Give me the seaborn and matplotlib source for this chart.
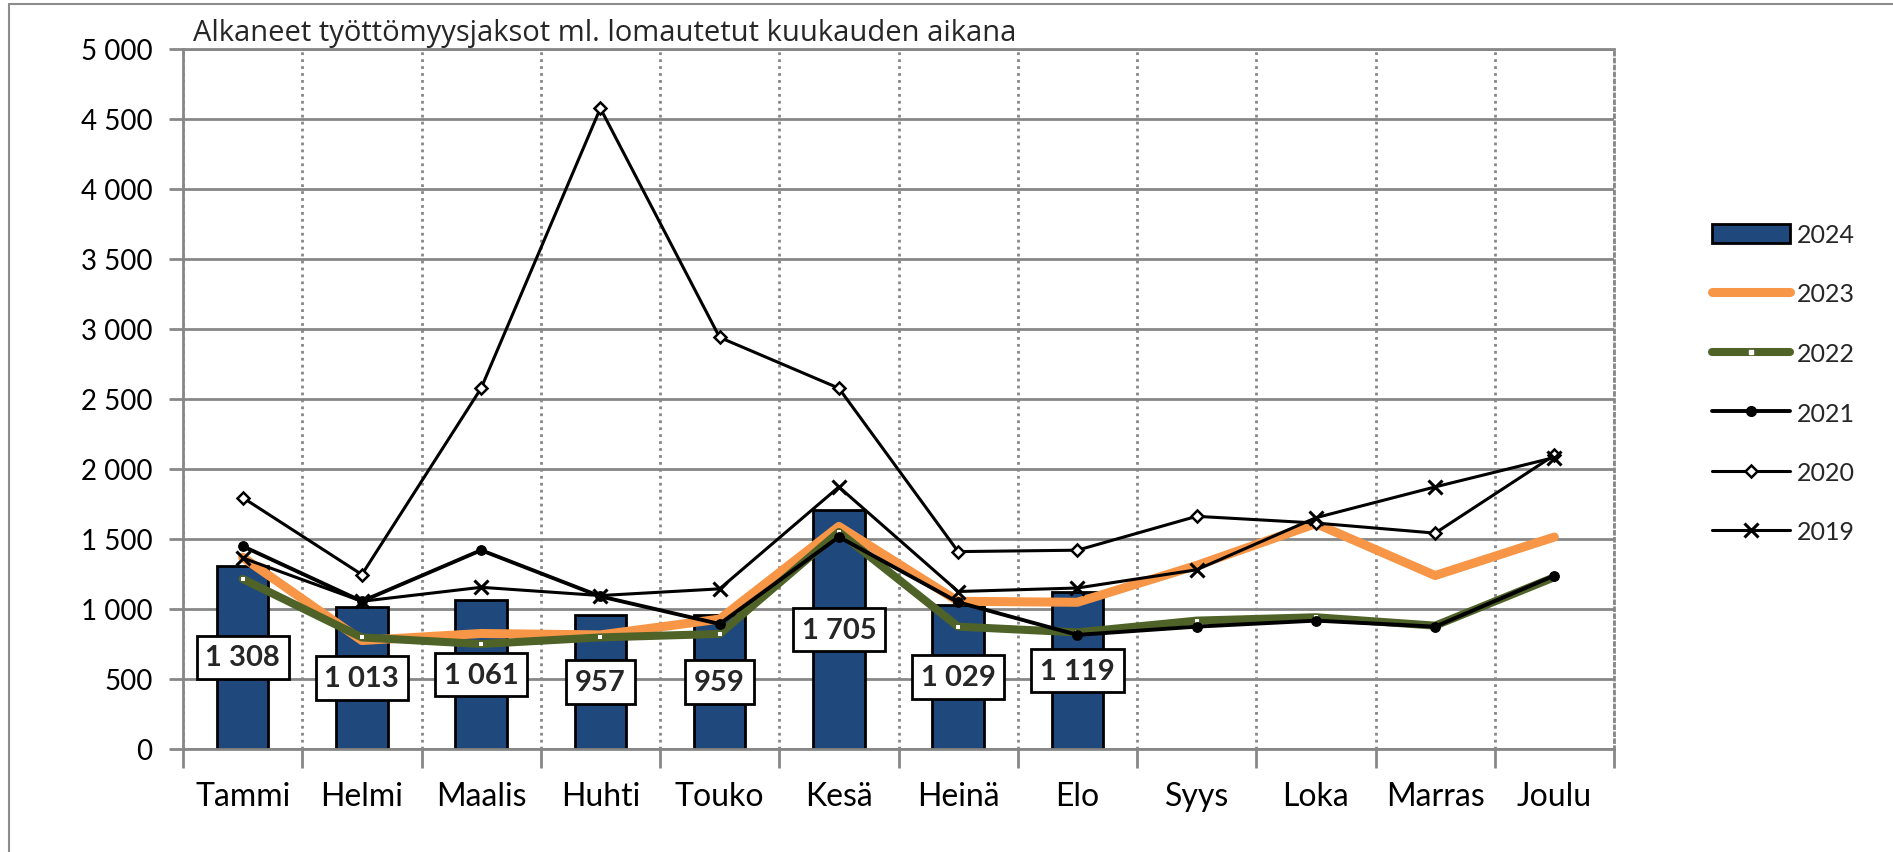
import numpy as np
import pandas as pd
import seaborn as sns
import matplotlib.pyplot as plt
from matplotlib.patches import Patch
from matplotlib.lines import Line2D

# data
months = ['Tammi', 'Helmi', 'Maalis', 'Huhti', 'Touko', 'Kesä',
          'Heinä', 'Elo', 'Syys', 'Loka', 'Marras', 'Joulu']
v2024 = [1308, 1013, 1061, 957, 959, 1705, 1029, 1119]
v2023 = [1370, 775, 825, 815, 928, 1590, 1055, 1048, 1311, 1610, 1239, 1514]
v2022 = [1215, 797, 750, 797, 822, 1550, 874, 833, 917, 941, 881, 1227]
v2021 = [1449, 1055, 1420, 1090, 893, 1515, 1048, 815, 874, 917, 874, 1239]
v2020 = [1796, 1246, 2577, 4577, 2940, 2577, 1410, 1420, 1662, 1614, 1542, 2099]
v2019 = [1365, 1055, 1155, 1096, 1144, 1872, 1125, 1150, 1280, 1652, 1872, 2082]
yticks = list(range(0, 5001, 500))
title = 'Alkaneet työttömyysjaksot ml. lomautetut kuukauden aikana'

def fmt(v):
    return f'{v:,}'.replace(',', ' ')

sns.set_theme(style='white')
plt.rcParams['font.family'] = ['Lato', 'DejaVu Sans']

GRID = '#878787'
BLUE = '#1F497D'
ORANGE = '#F79646'
GREEN = '#4F6228'

fig = plt.figure(figsize=(18.93, 8.53), dpi=100)
W, H = 1893, 853
ax = fig.add_axes([183 / W, 1 - 750 / H, (1614 - 183) / W, (750 - 50) / H])

df = pd.DataFrame({'month': months,
                   'value': v2024 + [np.nan] * (12 - len(v2024))})
sns.barplot(data=df, x='month', y='value', order=months, color=BLUE,
            saturation=1, edgecolor='black', linewidth=2, width=0.43,
            errorbar=None, ax=ax, zorder=2)

x = np.arange(len(months))
sns.lineplot(x=x, y=v2023, color=ORANGE, lw=6.5, ax=ax, zorder=3)
sns.lineplot(x=x, y=v2022, color=GREEN, lw=5.8, marker='s', ms=3.5,
             mfc='white', mec='white', mew=0, ax=ax, zorder=4)
sns.lineplot(x=x, y=v2021, color='black', lw=2.8, marker='o', ms=7,
             mfc='black', mec='black', ax=ax, zorder=5)
sns.lineplot(x=x, y=v2020, color='black', lw=2.2, marker='D', ms=6,
             mfc='white', mec='black', mew=1.8, ax=ax, zorder=6)
sns.lineplot(x=x, y=v2019, color='black', lw=2.2, marker='x', ms=10,
             mec='black', mew=2.2, ax=ax, zorder=7)

# value labels for 2024, centred in the bars
for i, v in enumerate(v2024):
    ax.text(i, v / 2, fmt(v), ha='center', va='center', fontsize=21,
            fontweight='bold', zorder=10,
            bbox=dict(boxstyle='square,pad=0.3', fc='white', ec='black', lw=2))

ax.set_xlim(-0.5, 11.5)
ax.set_ylim(0, 5000)
ax.set_yticks(yticks)
ax.set_yticklabels([fmt(t) for t in yticks])
ax.set_xticks(x)
ax.set_xticklabels(months)
ax.set_xticks(np.arange(-0.5, 12), minor=True)
ax.set_xlabel('')
ax.set_ylabel('')

ax.yaxis.grid(True, color=GRID, lw=2, zorder=0)
ax.xaxis.grid(True, which='minor', color=GRID, lw=2, ls=(0, (1, 1.5)))
ax.xaxis.grid(False, which='major')
ax.set_axisbelow(True)

ax.tick_params(axis='y', length=10, width=2, color=GRID, pad=12,
               labelsize=20, labelcolor='black', left=True)
ax.tick_params(axis='x', which='major', length=0, pad=23, labelsize=23,
               labelcolor='black')
ax.tick_params(axis='x', which='minor', length=14, width=2, color=GRID,
               bottom=True)

for s in ['left', 'bottom', 'top']:
    ax.spines[s].set_color(GRID)
    ax.spines[s].set_linewidth(2)
ax.spines['right'].set_color(GRID)
ax.spines['right'].set_linewidth(2)
ax.spines['right'].set_linestyle((0, (1, 1.5)))

fig.text(193 / W, 1 - 34 / H, title, ha='left', va='center', fontsize=21,
         family=['Open Sans', 'DejaVu Sans'])

handles = [
    Patch(facecolor=BLUE, edgecolor='black', lw=2),
    Line2D([], [], color=ORANGE, lw=6.5),
    Line2D([], [], color=GREEN, lw=5.8, marker='s', ms=3.5, mfc='white', mec='white'),
    Line2D([], [], color='black', lw=2.8, marker='o', ms=7),
    Line2D([], [], color='black', lw=2.2, marker='D', ms=6, mfc='white', mew=1.8),
    Line2D([], [], color='black', lw=2.2, marker='x', ms=10, mew=2.2),
]
fig.legend(handles, ['2024', '2023', '2022', '2021', '2020', '2019'],
           loc='upper left', bbox_to_anchor=(1712 / W, 1 - 224 / H),
           bbox_transform=fig.transFigure, frameon=False, fontsize=18,
           labelspacing=1.46, handlelength=3.1, handleheight=0.8,
           handletextpad=0.3, borderpad=0, borderaxespad=0)

# outer chart border (top and left edges are visible in the reference)
fig.add_artist(Line2D([9 / W, 9 / W], [0, 1 - 5 / H], transform=fig.transFigure,
                      color='#8c8c8c', lw=1.5))
fig.add_artist(Line2D([9 / W, 1], [1 - 5 / H, 1 - 5 / H], transform=fig.transFigure,
                      color='#8c8c8c', lw=1.5))

fig.savefig('out.png', dpi=100, facecolor='white')
